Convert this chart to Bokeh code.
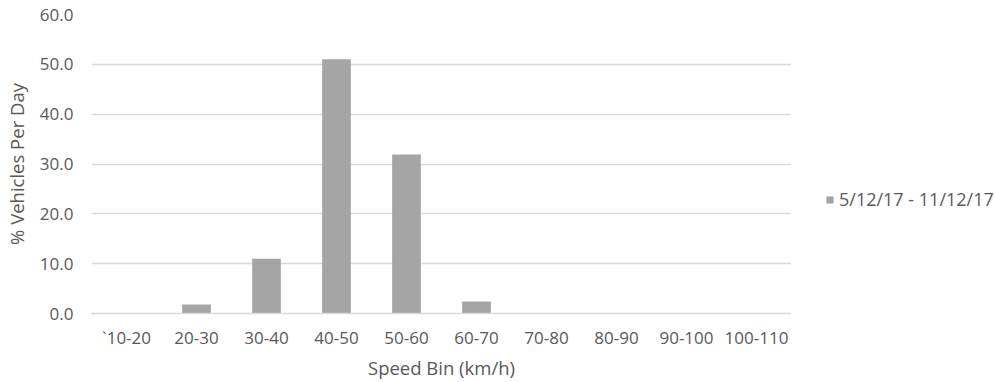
from bokeh.plotting import figure
from bokeh.layouts import row
from bokeh.models import (ColumnDataSource, FactorRange, Range1d, FixedTicker,
                          NumeralTickFormatter, Legend, LegendItem)
from bokeh.embed import file_html
from bokeh.resources import INLINE

# Speed distribution, share of vehicles per day in each speed bin
speed_bins = ["`10-20", "20-30", "30-40", "40-50", "50-60",
              "60-70", "70-80", "80-90", "90-100", "100-110"]
pct_vehicles = [0.0, 1.8, 11.0, 51.0, 31.9, 2.4, 0.0, 0.0, 0.0, 0.0]
series_label = "5/12/17 - 11/12/17"
y_ticks = [0, 10, 20, 30, 40, 50, 60]

FONT = "Open Sans"
TEXT = "#595959"
GRID = "#d9d9d9"
BAR = "#a5a5a5"

source = ColumnDataSource(data=dict(bin=speed_bins, pct=pct_vehicles))

p = figure(
    width=791, height=382,
    x_range=FactorRange(*speed_bins),
    y_range=Range1d(0, 60),
    output_backend="svg", toolbar_location=None,
    min_border_left=89, min_border_right=0,
    min_border_top=14, min_border_bottom=68,
)
p.outline_line_color = None
p.background_fill_color = "white"
p.border_fill_color = "white"

p.vbar(x="bin", top="pct", width=0.41, source=source,
       fill_color=BAR, line_color=None)

# y axis
p.yaxis.ticker = FixedTicker(ticks=y_ticks)
p.yaxis.formatter = NumeralTickFormatter(format="0.0")
p.yaxis.axis_line_color = None
p.yaxis.major_tick_line_color = None
p.yaxis.major_tick_out = 0
p.yaxis.minor_tick_line_color = None
p.yaxis.major_label_standoff = 18
p.yaxis.axis_label = "% Vehicles Per Day"
p.yaxis.axis_label_standoff = 8

# x axis
p.xaxis.axis_line_color = GRID
p.xaxis.axis_line_width = 1.5
p.xaxis.major_tick_line_color = None
p.xaxis.major_tick_out = 0
p.xaxis.minor_tick_line_color = None
p.xaxis.major_label_standoff = 12
p.xaxis.axis_label = "Speed Bin (km/h)"
p.xaxis.axis_label_standoff = 3

for ax in (p.xaxis[0], p.yaxis[0]):
    ax.major_label_text_font = FONT
    ax.major_label_text_font_size = "17px"
    ax.major_label_text_color = TEXT
    ax.axis_label_text_font = FONT
    ax.axis_label_text_font_size = "18.5px"
    ax.axis_label_text_font_style = "normal"
    ax.axis_label_text_color = TEXT

p.xgrid.grid_line_color = None
p.ygrid.grid_line_color = GRID
p.ygrid.grid_line_width = 1.5
p.ygrid.ticker = FixedTicker(ticks=y_ticks)

# legend panel to the right of the chart; its swatch bar sits outside the
# visible range so only the legend entry shows
lp = figure(
    width=204, height=382,
    x_range=Range1d(0, 1), y_range=Range1d(0, 1),
    output_backend="svg", toolbar_location=None,
    min_border=0,
)
lp.axis.visible = False
lp.grid.visible = False
lp.outline_line_color = None
lp.background_fill_color = "white"
lp.border_fill_color = "white"
swatch = lp.vbar(x=[-1], top=[0], width=0.4, fill_color=BAR, line_color=None)

legend = Legend(
    items=[LegendItem(label=series_label, renderers=[swatch])],
    location=(34, 102),
    padding=0, margin=0, spacing=0,
    glyph_width=9, glyph_height=9, label_standoff=5,
    label_text_font=FONT, label_text_font_size="18px",
    label_text_color=TEXT,
    border_line_color=None, background_fill_alpha=0,
)
lp.add_layout(legend, "center")

layout = row(p, lp, spacing=0)

open("out.html", "w").write(file_html(layout, INLINE))
